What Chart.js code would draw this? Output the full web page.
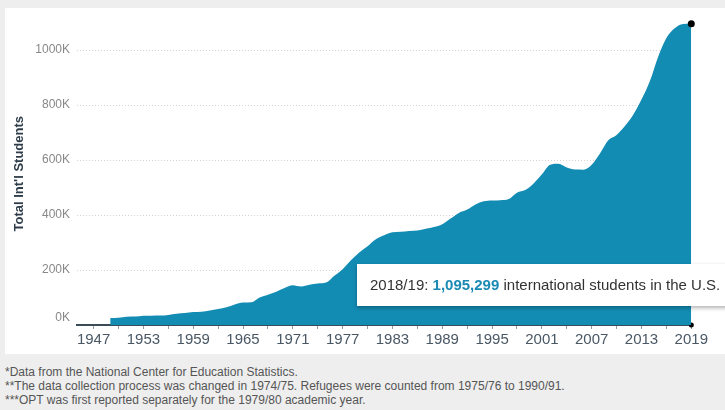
<!DOCTYPE html>
<html lang="en">
<head>
<meta charset="UTF-8">
<title>International Students in the U.S.</title>
<script src="https://cdn.jsdelivr.net/npm/chart.js"></script>
<style>
  body {
    margin: 0;
    width: 725px;
    height: 410px;
    overflow: hidden;
    position: relative;
    background: #eeeeee;
    font-family: "Liberation Sans", Arial, sans-serif;
  }
  .panel {
    position: absolute;
    left: 5px;
    top: 8px;
    width: 720px;
    height: 346px;
    background: #fff;
  }
  .panel canvas { position: absolute; left: 0; top: 0; }
  .callout {
    position: absolute;
    left: 357px;
    top: 264px;
    width: 380px;
    height: 42px;
    line-height: 42px;
    padding-left: 13px;
    background: #fff;
    box-shadow: 0 2px 4px rgba(0, 0, 0, 0.3);
    font-size: 15px;
    color: #333;
    white-space: nowrap;
  }
  .callout b { color: #1a8ab5; }
  .notes {
    position: absolute;
    left: 5px;
    top: 365px;
    font-size: 12px;
    line-height: 14px;
    color: #555;
  }
</style>
</head>
<body>
<div class="panel">
  <canvas id="chart" width="720" height="346"></canvas>
</div>
<div class="callout">2018/19: <b>1,095,299</b> international students in the U.S.</div>
<div class="notes">
  *Data from the National Center for Education Statistics.<br>
  **The data collection process was changed in 1974/75. Refugees were counted from 1975/76 to 1990/91.<br>
  ***OPT was first reported separately for the 1979/80 academic year.
</div>

<script>
// academic year, labelled by its closing year (1948/49 -> 1949)
const years = [
  1949, 1950, 1951, 1952, 1953, 1954, 1955, 1956, 1957, 1958,
  1959, 1960, 1961, 1962, 1963, 1964, 1965, 1966, 1967, 1968,
  1969, 1970, 1971, 1972, 1973, 1974, 1975, 1976, 1977, 1978,
  1979, 1980, 1981, 1982, 1983, 1984, 1985, 1986, 1987, 1988,
  1989, 1990, 1991, 1992, 1993, 1994, 1995, 1996, 1997, 1998,
  1999, 2000, 2001, 2002, 2003, 2004, 2005, 2006, 2007, 2008,
  2009, 2010, 2011, 2012, 2013, 2014, 2015, 2016, 2017, 2018,
  2019
];

// total international students
const students = [
  25464, 26433, 29813, 30462, 33675, 33833, 34232, 36494, 40666, 43391,
  47245, 48486, 53107, 58086, 64705, 74814, 82045, 82709, 100262, 110315,
  121362, 134959, 144708, 140126, 146097, 151066, 154580, 179344, 203068, 235509,
  263938, 286343, 311882, 326299, 336985, 338894, 342113, 343777, 349609, 356187,
  366354, 386851, 407529, 419585, 438618, 449749, 452635, 453787, 457984, 481280,
  490933, 514723, 547867, 582996, 586323, 572509, 565039, 564766, 582984, 623805,
  671616, 690923, 723277, 764495, 819644, 886052, 974926, 1043839, 1078822, 1094792,
  1095299
];

// x tick marks every 3 years, labels every 6
const xTickYears = [
  1947, 1950, 1953, 1956, 1959, 1962, 1965, 1968, 1971, 1974, 1977, 1980, 1983,
  1986, 1989, 1992, 1995, 1998, 2001, 2004, 2007, 2010, 2013, 2016, 2019
];
const xLabelYears = [1947, 1953, 1959, 1965, 1971, 1977, 1983, 1989, 1995, 2001, 2007, 2013, 2019];
const yTicks = [0, 200000, 400000, 600000, 800000, 1000000];

const fill = '#138cb4';
Chart.defaults.font.family = '"Liberation Sans", Arial, sans-serif';

const lastYear = years[years.length - 1];

new Chart(document.getElementById('chart'), {
  type: 'line',
  data: {
    datasets: [{
      data: years.map((x, i) => ({ x, y: students[i] })),
      fill: 'origin',
      backgroundColor: fill,
      borderColor: fill,
      borderWidth: 0,
      cubicInterpolationMode: 'monotone',
      pointRadius: years.map((x, i) => i === years.length - 1 ? 3.5 : 0),
      pointBackgroundColor: '#000',
      pointBorderWidth: 0,
      clip: false
    }, {
      // hover marker on the axis
      data: [{ x: lastYear, y: 0 }],
      showLine: false,
      pointRadius: 2.5,
      pointBackgroundColor: '#000',
      pointBorderWidth: 0,
      clip: false
    }]
  },
  options: {
    responsive: false,
    animation: false,
    events: [],
    layout: { padding: { left: 0, right: 33.7, top: 14.5, bottom: 0 } },
    plugins: {
      legend: { display: false },
      tooltip: { enabled: false }
    },
    scales: {
      x: {
        type: 'linear',
        min: 1945,
        max: 2019,
        afterBuildTicks: s => { s.ticks = xTickYears.map(v => ({ value: v })); },
        afterFit: s => { s.height = 29; },
        ticks: {
          autoSkip: false,
          maxRotation: 0,
          padding: 2,
          color: '#4a5865',
          font: { family: '"Liberation Sans Narrow", "Liberation Sans", Arial, sans-serif', size: 15 },
          callback: v => xLabelYears.includes(v) ? String(v) : ''
        },
        grid: { drawOnChartArea: false, drawTicks: true, tickLength: 4, color: '#999' },
        border: { color: '#3b4c59', width: 2 }
      },
      y: {
        min: 0,
        max: 1100000,
        afterBuildTicks: s => { s.ticks = yTicks.map(v => ({ value: v })); },
        afterFit: s => { s.width = 72; },
        ticks: {
          padding: 7,
          color: '#888',
          font: { size: 12 },
          // 0K sits a little above the axis line
          callback: v => v === 0 ? ['0K', ''] : (v / 1000) + 'K'
        },
        grid: { drawTicks: false, color: '#d4d4d4', lineWidth: 1 },
        border: { display: false, dash: [1, 2] },
        title: {
          display: true,
          text: "Total Int'l Students",
          color: '#2e3d49',
          font: { size: 13, weight: 'bold' },
          padding: { top: 7, bottom: 0 }
        }
      }
    }
  }
});
</script>
</body>
</html>
